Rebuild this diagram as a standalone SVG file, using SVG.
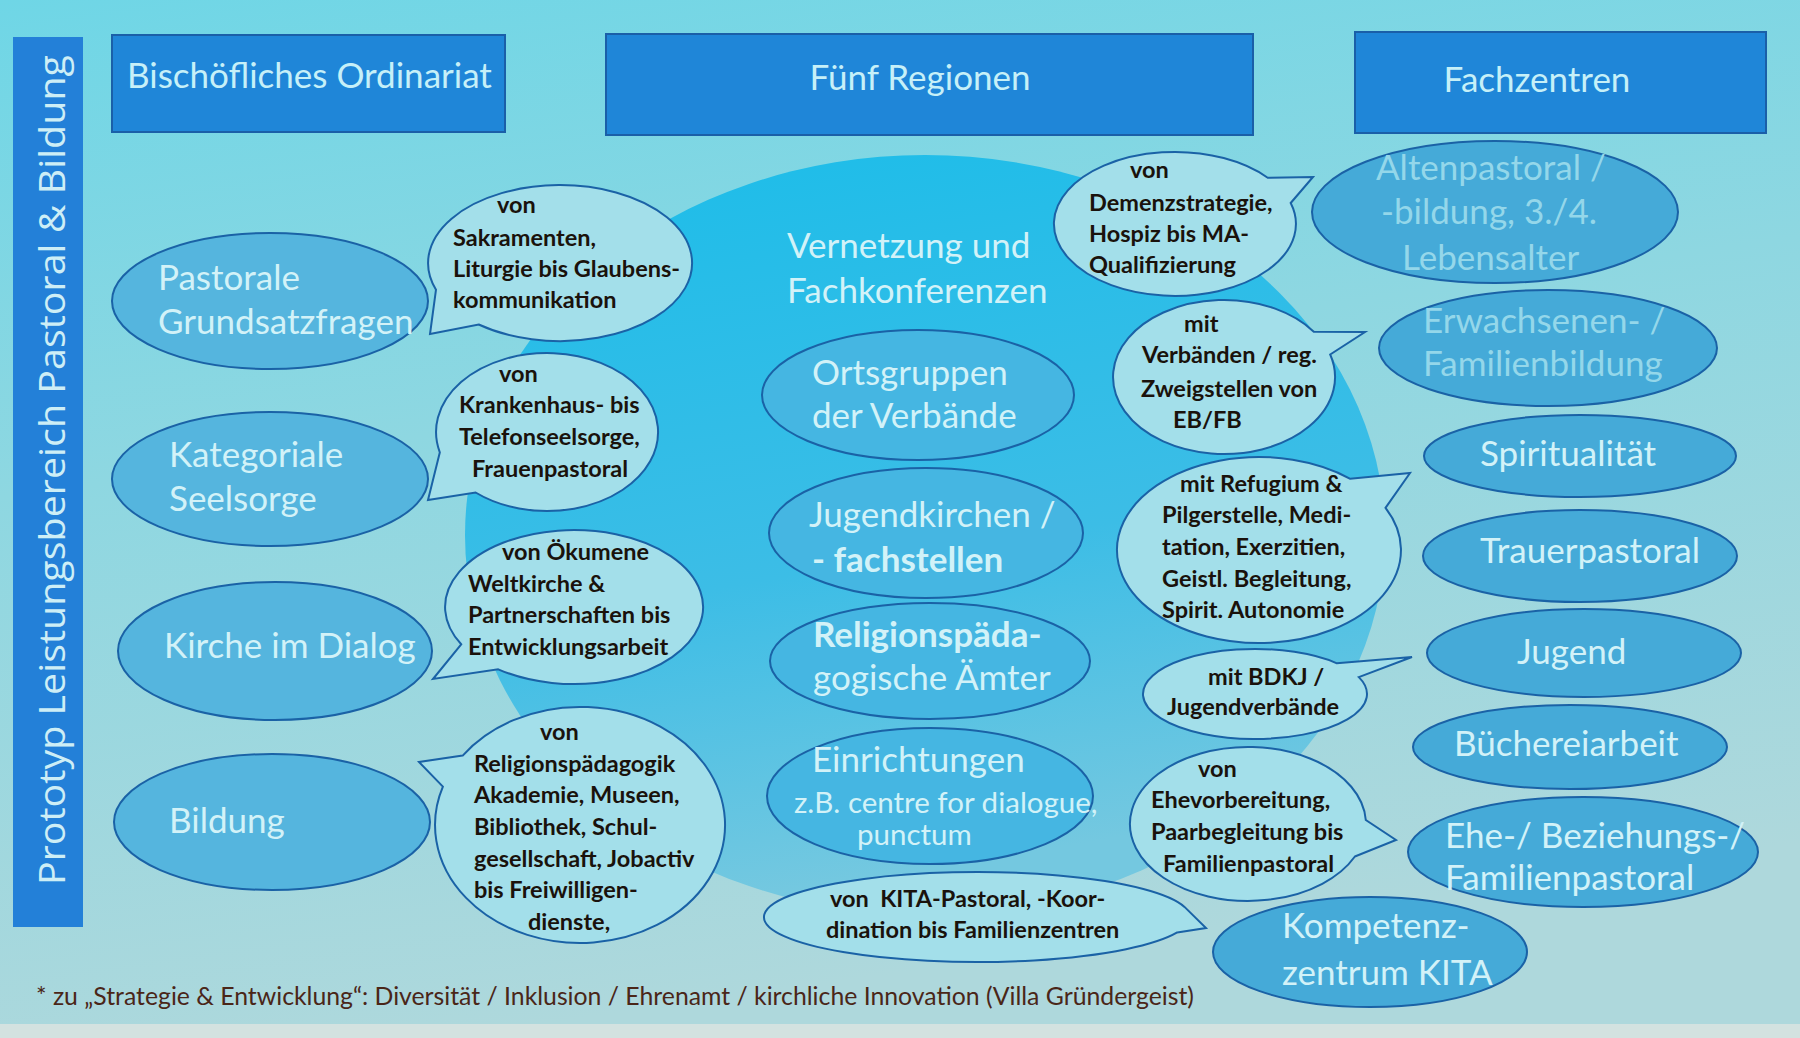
<svg xmlns="http://www.w3.org/2000/svg" width="1800" height="1038" viewBox="0 0 1800 1038">
<defs>
  <linearGradient id="bg" x1="0" y1="0" x2="0.25" y2="1">
    <stop offset="0" stop-color="#6fd6e6"/>
    <stop offset="0.45" stop-color="#8ed7e1"/>
    <stop offset="1" stop-color="#aed8dc"/>
  </linearGradient>
  <linearGradient id="big" x1="0" y1="0" x2="0.2" y2="1">
    <stop offset="0" stop-color="#1cbde9"/>
    <stop offset="0.6" stop-color="#3cbde6"/>
    <stop offset="1" stop-color="#74c8e0"/>
  </linearGradient>
  <style>
    .hdr{fill:#1f86d8;stroke:#1a5fa8;stroke-width:2}
    .hdrt{font-family:Lato,"Liberation Sans",sans-serif;font-size:35px;fill:#c6f0f8}
    .ell{stroke:#1a62a6;stroke-width:2}
    .lft{fill:#55b5de}
    .ctr{fill:#45b6e2}
    .rgt{fill:#45aad8}
    .wt{font-family:Lato,"Liberation Sans",sans-serif;font-size:35px;fill:#d2f2f8}
    .sm{font-size:29.5px}
    .fd{fill:#94d7ea}
    .bub{fill:#a3dfea;stroke:#1a62a6;stroke-width:2}
    .bt{font-family:Lato,"Liberation Sans",sans-serif;font-weight:bold;font-size:23.5px;fill:#1a120c}
    .ft{font-family:Lato,"Liberation Sans",sans-serif;font-size:24.5px;fill:#4a2618}
  </style>
</defs>

<rect x="0" y="0" width="1800" height="1038" fill="url(#bg)"/>
<rect x="0" y="1024" width="1800" height="14" fill="#d3e2e0"/>

<!-- large central circle -->
<ellipse id="bigcircle" cx="925" cy="535" rx="460" ry="380" fill="url(#big)"/>

<!-- vertical title bar -->
<g id="titlebar">
  <rect x="13" y="37" width="70" height="890" fill="#2380d8"/>
  <text transform="translate(65,885) rotate(-90)" font-family="'Open Sans','Noto Sans',sans-serif" font-size="37" fill="#cdeef6" textLength="830" lengthAdjust="spacingAndGlyphs">Prototyp Leistungsbereich Pastoral &amp; Bildung</text>
</g>

<!-- header boxes -->
<g id="hdr-ordinariat">
  <rect class="hdr" x="112" y="35" width="393" height="97"/>
  <text class="hdrt" x="127" y="88">Bischöfliches Ordinariat</text>
</g>
<g id="hdr-regionen">
  <rect class="hdr" x="606" y="34" width="647" height="101"/>
  <text class="hdrt" x="920" y="90" text-anchor="middle">Fünf Regionen</text>
</g>
<g id="hdr-fachzentren">
  <rect class="hdr" x="1355" y="32" width="411" height="101"/>
  <text class="hdrt" x="1537" y="92" text-anchor="middle">Fachzentren</text>
</g>

<!-- left column (Bischöfliches Ordinariat) -->
<g id="n-pastorale">
  <ellipse class="ell lft" cx="270" cy="301" rx="158" ry="68"/>
  <text class="wt" x="158" y="290">Pastorale</text>
  <text class="wt" x="158" y="334">Grundsatzfragen</text>
</g>
<g id="n-kategoriale">
  <ellipse class="ell lft" cx="270" cy="479" rx="158" ry="67"/>
  <text class="wt" x="169" y="467">Kategoriale</text>
  <text class="wt" x="169" y="511">Seelsorge</text>
</g>
<g id="n-kirche">
  <ellipse class="ell lft" cx="275" cy="651" rx="157" ry="69"/>
  <text class="wt" x="164" y="658">Kirche im Dialog</text>
</g>
<g id="n-bildung">
  <ellipse class="ell lft" cx="272" cy="822" rx="158" ry="68"/>
  <text class="wt" x="169" y="833">Bildung</text>
</g>

<!-- left speech bubbles -->
<g id="b-sakramente">
  <path class="bub" d="M436,289.7 L430,334 L478.7,324.5 A132,78 0 1 0 436,289.7 Z"/>
  <text class="bt" x="497" y="213">von</text>
  <text class="bt" x="453" y="246">Sakramenten,</text>
  <text class="bt" x="453" y="277">Liturgie bis Glaubens-</text>
  <text class="bt" x="453" y="308">kommunikation</text>
</g>
<g id="b-krankenhaus">
  <path class="bub" d="M439.8,452.4 L428,500 L475.6,492.5 A111,79 0 1 0 439.8,452.4 Z"/>
  <text class="bt" x="499" y="382">von</text>
  <text class="bt" x="459" y="413">Krankenhaus- bis</text>
  <text class="bt" x="459" y="445">Telefonseelsorge,</text>
  <text class="bt" x="472" y="477">Frauenpastoral</text>
</g>
<g id="b-oekumene">
  <path class="bub" d="M461.2,644.3 L433,679 L498.2,669.3 A129,77 0 1 0 461.2,644.3 Z"/>
  <text class="bt" x="502" y="560">von Ökumene</text>
  <text class="bt" x="468" y="592">Weltkirche &amp;</text>
  <text class="bt" x="468" y="623">Partnerschaften bis</text>
  <text class="bt" x="468" y="655">Entwicklungsarbeit</text>
</g>
<g id="b-religionspaed">
  <path class="bub" d="M462.7,755.6 L419,762 L442.9,786.6 A145,118 0 1 0 462.7,755.6 Z"/>
  <text class="bt" x="540" y="740">von</text>
  <text class="bt" x="474" y="772">Religionspädagogik</text>
  <text class="bt" x="474" y="803">Akademie, Museen,</text>
  <text class="bt" x="474" y="835">Bibliothek, Schul-</text>
  <text class="bt" x="474" y="867">gesellschaft, Jobactiv</text>
  <text class="bt" x="474" y="898">bis Freiwilligen-</text>
  <text class="bt" x="528" y="930">dienste,</text>
</g>

<!-- centre (Fünf Regionen) -->
<g id="n-vernetzung">
  <text class="wt" x="787" y="258">Vernetzung und</text>
  <text class="wt" x="787" y="303">Fachkonferenzen</text>
</g>
<g id="n-ortsgruppen">
  <ellipse class="ell ctr" cx="918" cy="395" rx="156" ry="65"/>
  <text class="wt" x="812" y="385">Ortsgruppen</text>
  <text class="wt" x="812" y="428">der Verbände</text>
</g>
<g id="n-jugendkirchen">
  <ellipse class="ell ctr" cx="926" cy="533" rx="157" ry="65"/>
  <text class="wt" x="809" y="527">Jugendkirchen /</text>
  <text class="wt" x="812" y="572" font-weight="bold">- fachstellen</text>
</g>
<g id="n-religionspaed">
  <ellipse class="ell ctr" cx="930" cy="661" rx="160" ry="58"/>
  <text class="wt" x="813" y="647" font-weight="bold">Religionspäda-</text>
  <text class="wt" x="813" y="690">gogische Ämter</text>
</g>
<g id="n-einrichtungen">
  <ellipse class="ell ctr" cx="930" cy="796" rx="163" ry="68"/>
  <text class="wt" x="812" y="772">Einrichtungen</text>
  <text class="wt sm" x="794" y="813">z.B. centre for dialogue,</text>
  <text class="wt sm" x="857" y="845">punctum</text>
</g>
<g id="b-kita">
  <path class="bub" d="M1177.2,932.4 L1206,928 L1184.5,906.9 A213,45 0 1 0 1177.2,932.4 Z"/>
  <text class="bt" x="830" y="907" xml:space="preserve">von  KITA-Pastoral, -Koor-</text>
  <text class="bt" x="826" y="938">dination bis Familienzentren</text>
</g>

<!-- right speech bubbles -->
<g id="b-demenz">
  <path class="bub" d="M1290.7,203 L1313,177 L1267.7,177.7 A121,72 0 1 0 1290.7,203 Z"/>
  <text class="bt" x="1130" y="178">von</text>
  <text class="bt" x="1089" y="211">Demenzstrategie,</text>
  <text class="bt" x="1089" y="242">Hospiz bis MA-</text>
  <text class="bt" x="1089" y="273">Qualifizierung</text>
</g>
<g id="b-verbaende">
  <path class="bub" d="M1330.2,354.5 L1365,332 L1313.8,331.7 A111,77 0 1 0 1330.2,354.5 Z"/>
  <text class="bt" x="1184" y="332">mit</text>
  <text class="bt" x="1142" y="363">Verbänden / reg.</text>
  <text class="bt" x="1141" y="397">Zweigstellen von</text>
  <text class="bt" x="1173" y="428">EB/FB</text>
</g>
<g id="b-refugium">
  <path class="bub" d="M1385.5,507.8 L1410,473 L1350.3,478.8 A142,93 0 1 0 1385.5,507.8 Z"/>
  <text class="bt" x="1180" y="492">mit Refugium &amp;</text>
  <text class="bt" x="1162" y="523">Pilgerstelle, Medi-</text>
  <text class="bt" x="1162" y="555">tation, Exerzitien,</text>
  <text class="bt" x="1162" y="587">Geistl. Begleitung,</text>
  <text class="bt" x="1162" y="618">Spirit. Autonomie</text>
</g>
<g id="b-bdkj">
  <path class="bub" d="M1358.8,677.1 L1412,657 L1336.9,663.3 A112,45 0 1 0 1358.8,677.1 Z"/>
  <text class="bt" x="1208" y="685">mit BDKJ /</text>
  <text class="bt" x="1167" y="715">Jugendverbände</text>
</g>
<g id="b-ehe">
  <path class="bub" d="M1354.9,856.5 L1396,840 L1365.8,820 A118,77 0 1 0 1354.9,856.5 Z"/>
  <text class="bt" x="1198" y="777">von</text>
  <text class="bt" x="1151" y="808">Ehevorbereitung,</text>
  <text class="bt" x="1151" y="840">Paarbegleitung bis</text>
  <text class="bt" x="1163" y="872">Familienpastoral</text>
</g>

<!-- right column (Fachzentren) -->
<g id="n-altenpastoral">
  <ellipse class="ell rgt" cx="1495" cy="212" rx="183" ry="71" fill="#4eb8df"/>
  <text class="wt fd" x="1376" y="180">Altenpastoral /</text>
  <text class="wt fd" x="1381" y="224">-bildung, 3./4.</text>
  <text class="wt fd" x="1402" y="270">Lebensalter</text>
</g>
<g id="n-erwachsenen">
  <ellipse class="ell rgt" cx="1548" cy="348" rx="169" ry="58"/>
  <text class="wt fd" x="1423" y="333">Erwachsenen- /</text>
  <text class="wt fd" x="1423" y="376">Familienbildung</text>
</g>
<g id="n-spiritualitaet">
  <ellipse class="ell rgt" cx="1580" cy="456" rx="156" ry="41"/>
  <text class="wt" x="1480" y="466">Spiritualität</text>
</g>
<g id="n-trauer">
  <ellipse class="ell rgt" cx="1580" cy="556" rx="157" ry="46"/>
  <text class="wt" x="1480" y="563">Trauerpastoral</text>
</g>
<g id="n-jugend">
  <ellipse class="ell rgt" cx="1584" cy="653" rx="157" ry="44"/>
  <text class="wt" x="1517" y="664">Jugend</text>
</g>
<g id="n-buecherei">
  <ellipse class="ell rgt" cx="1570" cy="747" rx="157" ry="42"/>
  <text class="wt" x="1454" y="756">Büchereiarbeit</text>
</g>
<g id="n-ehe">
  <ellipse class="ell rgt" cx="1583" cy="852" rx="175" ry="55"/>
  <text class="wt" x="1445" y="848">Ehe-/ Beziehungs-/</text>
  <text class="wt" x="1445" y="890">Familienpastoral</text>
</g>
<g id="n-kita">
  <ellipse class="ell rgt" cx="1370" cy="952" rx="157" ry="55"/>
  <text class="wt" x="1282" y="938">Kompetenz-</text>
  <text class="wt" x="1282" y="985">zentrum KITA</text>
</g>

<g id="connectors"></g>

<!-- footnote -->
<text class="ft" x="36" y="1005" textLength="1158" lengthAdjust="spacingAndGlyphs">* zu „Strategie &amp; Entwicklung“: Diversität / Inklusion / Ehrenamt / kirchliche Innovation (Villa Gründergeist)</text>
</svg>
